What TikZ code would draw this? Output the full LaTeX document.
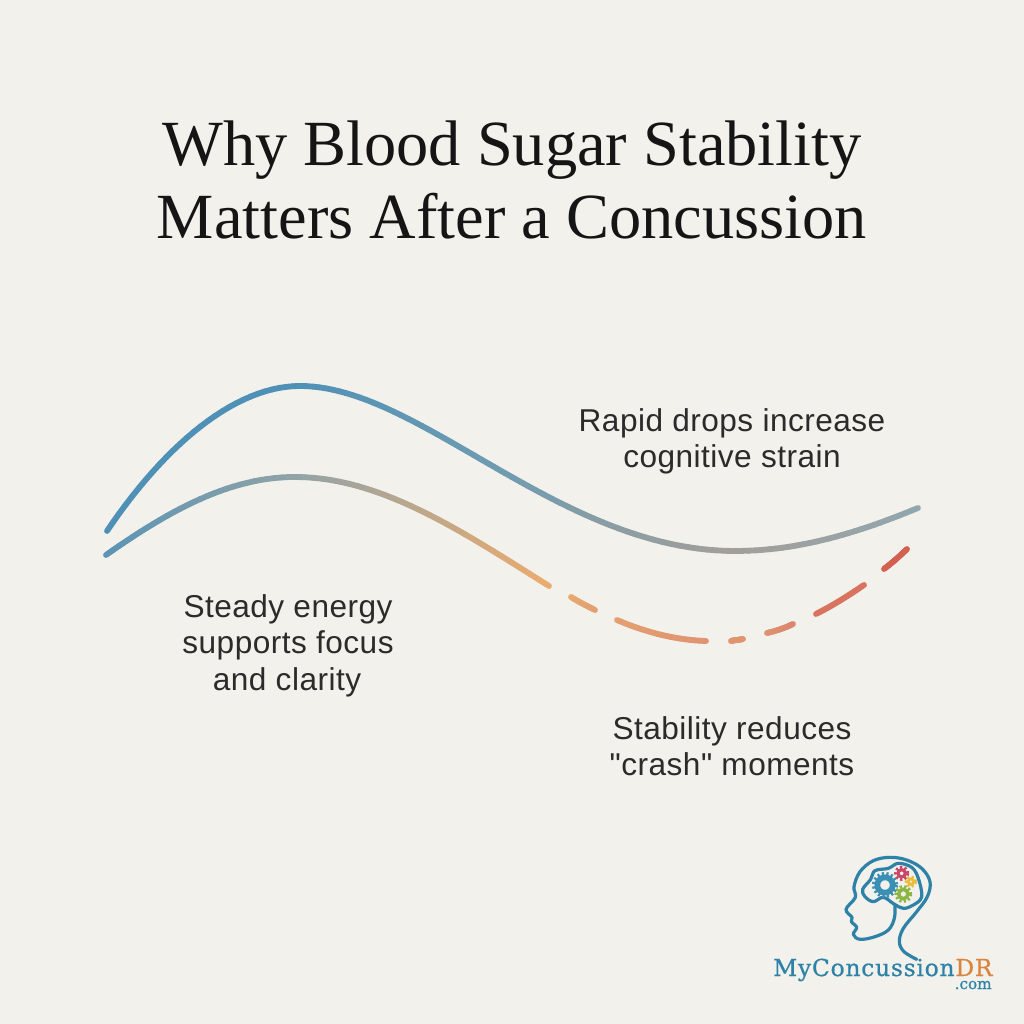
\documentclass[tikz,border=0pt]{standalone}
\usepackage{fontspec}
\setmainfont{Liberation Serif}
\newfontfamily\bodyfont{Liberation Sans}[LetterSpace=1.5]
\newfontfamily\logofont{DejaVu Serif}[LetterSpace=3.2,FakeBold=0.7]
\newfontfamily\logofontb{DejaVu Serif}[FakeBold=0.9]
\definecolor{bgpaper}{HTML}{F2F1EC}
\definecolor{inkdark}{HTML}{151515}
\definecolor{inkbody}{HTML}{2B2B2B}
\definecolor{cblue}{HTML}{4F91B6}
\definecolor{cbluem}{HTML}{6D9BB2}
\definecolor{cblueb}{HTML}{5A94B4}
\definecolor{cgreyb}{HTML}{8FA3A8}
\definecolor{cgrey}{HTML}{A39F99}
\definecolor{cgreyr}{HTML}{92A6AE}
\definecolor{corange}{HTML}{E8AB70}
\definecolor{corb}{HTML}{E3A071}
\definecolor{corc}{HTML}{E0946F}
\definecolor{cord}{HTML}{DC8670}
\definecolor{core}{HTML}{D8735F}
\definecolor{corf}{HTML}{D4614F}
\definecolor{logoblue}{HTML}{2E82A8}
\definecolor{gearblue}{HTML}{3A8FB5}
\definecolor{logoorange}{HTML}{D9853F}
\definecolor{gearred}{HTML}{C9486A}
\definecolor{gearyellow}{HTML}{E9BC3A}
\definecolor{geargreen}{HTML}{8DB645}
\def\splitpair#1,#2\relax#3#4{\def#3{#1}\def#4{#2}}
% gradient bezier: {x0,y0}{x1,y1}{x2,y2}{x3,y3}{colA}{colB}
\newcommand{\gradseg}[6]{%
  \splitpair#1\relax\pa\pb
  \splitpair#2\relax\pc\pd
  \splitpair#3\relax\pe\pf
  \splitpair#4\relax\pg\ph
  \foreach \i in {1,...,28}{%
    \pgfmathsetmacro{\ta}{(\i-1)/28}%
    \pgfmathsetmacro{\tb}{\i/28}%
    \pgfmathsetmacro{\xa}{(1-\ta)^3*\pa+3*(1-\ta)^2*\ta*\pc+3*(1-\ta)*\ta^2*\pe+\ta^3*\pg}%
    \pgfmathsetmacro{\ya}{(1-\ta)^3*\pb+3*(1-\ta)^2*\ta*\pd+3*(1-\ta)*\ta^2*\pf+\ta^3*\ph}%
    \pgfmathsetmacro{\xb}{(1-\tb)^3*\pa+3*(1-\tb)^2*\tb*\pc+3*(1-\tb)*\tb^2*\pe+\tb^3*\pg}%
    \pgfmathsetmacro{\yb}{(1-\tb)^3*\pb+3*(1-\tb)^2*\tb*\pd+3*(1-\tb)*\tb^2*\pf+\tb^3*\ph}%
    \pgfmathsetmacro{\mixp}{100*(1-\tb)}%
    \draw[curveline,draw={#5!\mixp!#6}] (\xa,\ya) -- (\xb,\yb);
  }}
\tikzset{
  curveline/.style={line width=2.9pt,line cap=round,line join=round},
  titletext/.style={anchor=base,text=inkdark,font=\fontsize{32.2}{36}\selectfont,inner sep=0pt},
  bodytext/.style={anchor=base,text=inkbody,font=\bodyfont\fontsize{15.8}{18}\selectfont,inner sep=0pt},
  logoline/.style={draw=logoblue,line width=1.6pt,line cap=round,line join=round},
  gearteeth/.style={dash pattern=on 1.1pt off 1.1pt},
}
\begin{document}
\begin{tikzpicture}[x=0.5pt,y=-0.5pt]
\useasboundingbox (0,0) rectangle (1024,1024);
\fill[bgpaper] (0,0) rectangle (1024,1024);
\node[titletext] (t1) at (512,165) {Why Blood Sugar Stability};
\node[titletext] (t2) at (512,238) {Matters After a Concussion};
% upper curve
\gradseg{107,531}{165,445}{235,386}{300,386}{cblue}{cblue}
\gradseg{300,386}{360,386}{425,427.25}{496.9,468.5}{cblue}{cbluem}
\gradseg{496.9,468.5}{568.75,509.75}{647.5,551}{735,551}{cbluem}{cgrey}
\gradseg{735,551}{800,551}{860,532}{918,508}{cgrey}{cgreyr}
% lower curve
\gradseg{106,555}{170,510}{230,477}{295,477}{cblueb}{cgreyb}
\gradseg{295,477}{380,477}{460,530}{549,586}{cgreyb}{corange}
\gradseg{571,597}{579,602}{587,606}{595,610}{corange}{corb}
\gradseg{617,620}{645,632}{675,640}{706,641}{corb}{corc}
\gradseg{731,641}{735,640}{739,640}{743,639}{corc}{corc}
\gradseg{767,633}{776,631}{785,628}{793,624}{corc}{cord}
\gradseg{816,614}{832,606}{848,596}{864,585}{core}{core}
\gradseg{884,569}{892,563}{900,556}{907,549}{corf}{corf}
% labels
\node[bodytext] (a1) at (732,431) {Rapid drops increase};
\node[bodytext] (a2) at (732,467) {cognitive strain};
\node[bodytext] (b1) at (288,617) {Steady energy};
\node[bodytext] (b2) at (288,653) {supports focus};
\node[bodytext] (b3) at (287,690) {and clarity};
\node[bodytext] (c1) at (732,739) {Stability reduces};
\node[bodytext] (c2) at (732,775) {"crash" moments};
% logo
\begin{scope}[shift={(750,840)},x=0.16667pt,y=-0.16667pt]
\draw[logoline] plot[smooth,tension=.6] coordinates {(500,358) (462,335) (448,305) (460,265) (500,215) (532,170) (540,125) (515,85) (470,60) (420,52) (370,62) (330,95) (312,140) (316,172) (288,208) (306,232) (304,245) (320,262) (310,283) (330,298) (375,290) (415,270) (433,235) (435,195)};
\draw[logoline] plot[smooth cycle,tension=.6] coordinates {(338,148) (362,118) (375,92) (415,85) (445,70) (485,82) (505,115) (515,170) (490,195) (460,205) (432,192) (400,172) (370,185) (345,170)};
\draw[gearblue,gearteeth,line width=2.2pt] (405,135) circle (33);
\draw[gearblue,line width=2.8pt] (405,135) circle (23);
\draw[gearred,gearteeth,line width=1.6pt] (455,100) circle (18);
\draw[gearred,line width=1.6pt] (455,100) circle (11);
\draw[gearyellow,gearteeth,line width=1.6pt] (483,125) circle (14);
\draw[gearyellow,line width=1.4pt] (483,125) circle (8);
\draw[geargreen,gearteeth,line width=1.6pt] (460,162) circle (22);
\draw[geargreen,line width=1.8pt] (460,162) circle (14);
\end{scope}
\node[anchor=base east,inner sep=0pt,text=logoblue,font=\logofont\fontsize{11.7}{13}\selectfont] (lg1) at (955,976) {MyConcussion};
\node[anchor=base west,inner sep=0pt,text=logoorange,font=\logofont\fontsize{11.7}{13}\selectfont] (lg2) at (lg1.base east) {DR};
\node[anchor=base east,inner sep=0pt,text=logoblue,font=\logofontb\fontsize{7.6}{9}\selectfont] (lg3) at (992,989) {.com};
\end{tikzpicture}
\end{document}
